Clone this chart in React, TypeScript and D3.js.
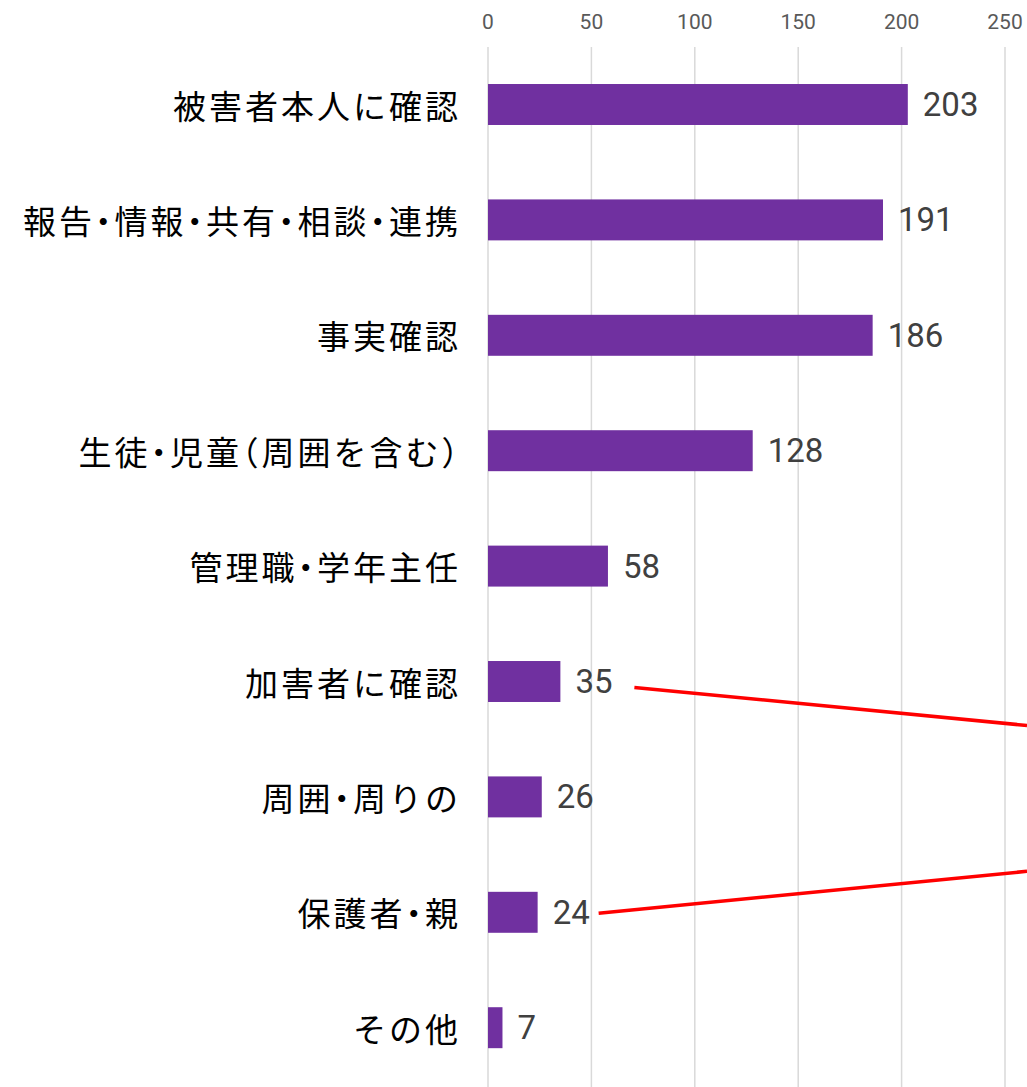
import React from "react";
import * as d3 from "d3";

const categories = [
  "被害者本人に確認",
  "報告・情報・共有・相談・連携",
  "事実確認",
  "生徒・児童（周囲を含む）",
  "管理職・学年主任",
  "加害者に確認",
  "周囲・周りの",
  "保護者・親",
  "その他",
];
const values = [203, 191, 186, 128, 58, 35, 26, 24, 7];
const tickValues = [0, 50, 100, 150, 200, 250];

// red callout lines leaving the chart to the right
const calloutCategories = ["加害者に確認", "保護者・親"];
const calloutStartGap = [74, 61];
const calloutStartDy = [6, 1];
const calloutEndDy = [44, -41];

const W = 1027;
const H = 1087;

export default function App() {
  const x = d3.scaleLinear().domain([0, 250]).range([488, 1005]);
  const y = d3
    .scaleBand<string>()
    .domain(categories)
    .range([46.8, 1085.4])
    .paddingInner(0.645)
    .paddingOuter(0.3225);
  const bw = y.bandwidth();
  const catFont = "'Noto Sans CJK JP', 'Noto Sans', sans-serif";
  const numFont = "Roboto, 'Noto Sans', sans-serif";
  const tickFont = "'Liberation Sans Narrow', Roboto, sans-serif";

  return (
    <svg
      width={W}
      height={H}
      style={{ position: "absolute", left: 0, top: 0, background: "#fff" }}
    >
      {tickValues.map((t) => (
        <g key={t}>
          <line
            x1={x(t)}
            x2={x(t)}
            y1={47}
            y2={H}
            stroke="#d9d9d9"
            strokeWidth={1.5}
          />
          <text
            x={x(t)}
            y={29}
            textAnchor="middle"
            fontFamily={tickFont}
            fontSize={21}
            fill="#595959"
          >
            {t}
          </text>
        </g>
      ))}
      {categories.map((c, i) => {
        const yc = (y(c) as number) + bw / 2;
        return (
          <g key={c}>
            <rect
              x={x(0)}
              y={y(c)}
              width={x(values[i]) - x(0)}
              height={bw}
              fill="#7030a0"
            />
            <text
              x={461}
              y={yc}
              dominantBaseline="central"
              textAnchor="end"
              fontFamily={catFont}
              fontSize={33}
              letterSpacing={3}
              style={{ fontFeatureSettings: "'halt'" }}
              fill="#000"
            >
              {c}
            </text>
            <text
              x={x(values[i]) + 15}
              y={yc}
              dominantBaseline="central"
              fontFamily={numFont}
              fontSize={33}
              fill="#404040"
            >
              {values[i]}
            </text>
          </g>
        );
      })}
      {calloutCategories.map((c, k) => {
        const i = categories.indexOf(c);
        const yc = (y(c) as number) + bw / 2;
        const x0 = x(values[i]) + calloutStartGap[k];
        const y0 = yc + calloutStartDy[k];
        return (
          <line
            key={c}
            x1={x0}
            y1={y0}
            x2={W}
            y2={yc + calloutEndDy[k]}
            stroke="#ff0000"
            strokeWidth={3.5}
          />
        );
      })}
    </svg>
  );
}
